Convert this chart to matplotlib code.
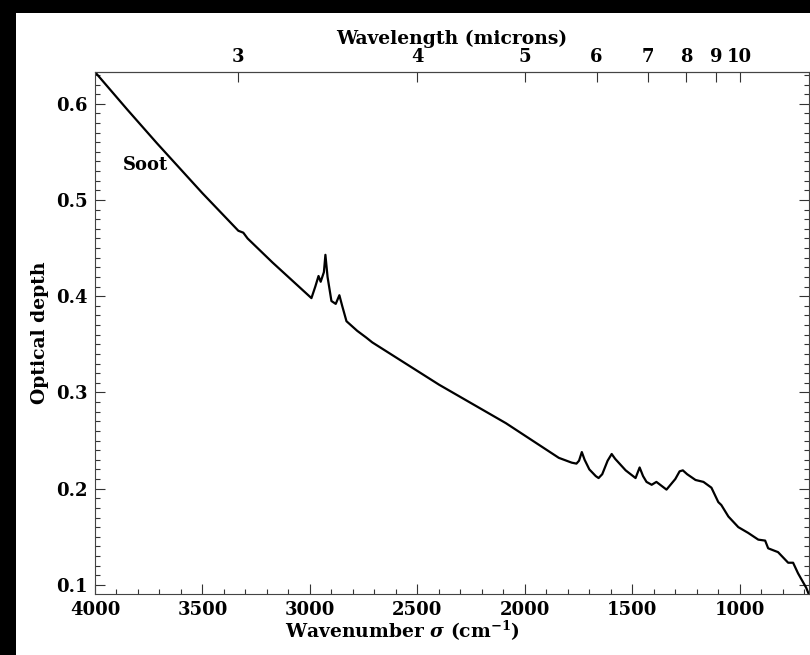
"""Soot optical depth spectrum."""

import matplotlib

matplotlib.use("Agg")
import matplotlib.pyplot as plt
import numpy as np
from matplotlib.patches import Rectangle
from matplotlib.ticker import MultipleLocator

plt.rcParams["font.family"] = ["DejaVu Serif"]
plt.rcParams["font.weight"] = "bold"
plt.rcParams["axes.labelweight"] = "bold"
plt.rcParams["mathtext.fontset"] = "dejavuserif"

# wavenumber (cm^-1) and optical depth
wavenumber = [
    4000, 3850, 3712, 3500, 3333, 3310, 3290, 3174, 2993, 2975, 2960, 2950,
    2935, 2928, 2918, 2900, 2880, 2863, 2850, 2830, 2780, 2738, 2710, 2399,
    2088, 1842, 1782, 1760, 1748, 1735, 1722, 1700, 1670, 1657, 1640, 1615,
    1596, 1580, 1531, 1485, 1466, 1450, 1434, 1410, 1388, 1341, 1300, 1280,
    1265, 1245, 1206, 1169, 1132, 1100, 1086, 1053, 1007, 961, 914, 882, 868,
    822, 775, 752, 729, 691, 675,
]
optical_depth = [
    0.633, 0.594, 0.559, 0.507, 0.468, 0.466, 0.460, 0.435, 0.398, 0.410,
    0.421, 0.415, 0.425, 0.443, 0.420, 0.395, 0.392, 0.401, 0.390, 0.374,
    0.364, 0.357, 0.352, 0.308, 0.268, 0.232, 0.227, 0.226, 0.229, 0.238,
    0.230, 0.220, 0.213, 0.211, 0.215, 0.229, 0.236, 0.231, 0.219, 0.211,
    0.222, 0.213, 0.207, 0.204, 0.207, 0.199, 0.210, 0.218, 0.219, 0.215,
    0.209, 0.207, 0.201, 0.186, 0.183, 0.171, 0.160, 0.154, 0.147, 0.146,
    0.138, 0.134, 0.123, 0.123, 0.112, 0.097, 0.088,
]
micron_ticks = [3, 4, 5, 6, 7, 8, 9, 10]
micron_labels = ["3", "4", "5", "6", "7", "8", "9", "10"]
x_ticks = [4000, 3500, 3000, 2500, 2000, 1500, 1000]
y_ticks = [0.1, 0.2, 0.3, 0.4, 0.5, 0.6]

fig = plt.figure(figsize=(8.1, 6.55), dpi=100, facecolor="black")
fig.patches.append(Rectangle((16 / 810, 0), 1, 1 - 13 / 655,
                             transform=fig.transFigure, facecolor="white",
                             edgecolor="none", zorder=-1))

ax = fig.add_axes([95 / 810, 1 - 594 / 655, 714 / 810, 522 / 655])
ax.plot(wavenumber, optical_depth, color="black", lw=1.6)
ax.set_xlim(4000, 678)
ax.set_ylim(0.0905, 0.633)

ax.set_xticks(x_ticks)
ax.set_yticks(y_ticks)
ax.set_yticklabels([f"{v:.1f}" for v in y_ticks])
ax.xaxis.set_minor_locator(MultipleLocator(100))
ax.yaxis.set_minor_locator(MultipleLocator(0.01))
ax.tick_params(which="both", direction="in", top=False, right=True,
               labelsize=13, width=0.8, color="#333333", pad=5)
ax.tick_params(which="major", length=7)
ax.tick_params(which="minor", length=3.5)
for sp in ax.spines.values():
    sp.set_linewidth(0.8)
    sp.set_color("#444444")

ax.set_xlabel(r"Wavenumber $\sigma$ (cm$^{-1}$)", fontsize=13.5)
# the bottom title sits left of the axes centre in the original
ax.xaxis.set_label_coords(0.43, -0.047)
ax.set_ylabel("Optical depth", fontsize=13.5, labelpad=5)
ax.text(3765, 0.536, "Soot", fontsize=13, ha="center", va="center")

top = ax.secondary_xaxis("top", functions=(lambda x: 1e4 / np.asarray(x, float),
                                           lambda x: 1e4 / np.asarray(x, float)))
top.set_xticks(micron_ticks)
top.set_xticklabels(micron_labels)
top.xaxis.set_minor_locator(plt.NullLocator())
top.tick_params(direction="in", length=7, width=0.8, color="#333333",
                labelsize=13, pad=4)
top.spines["top"].set_linewidth(0.8)
top.spines["top"].set_color("#444444")
top.set_xlabel("Wavelength (microns)", fontsize=13.5, labelpad=3)

fig.savefig("out.png", dpi=100, facecolor="black")
